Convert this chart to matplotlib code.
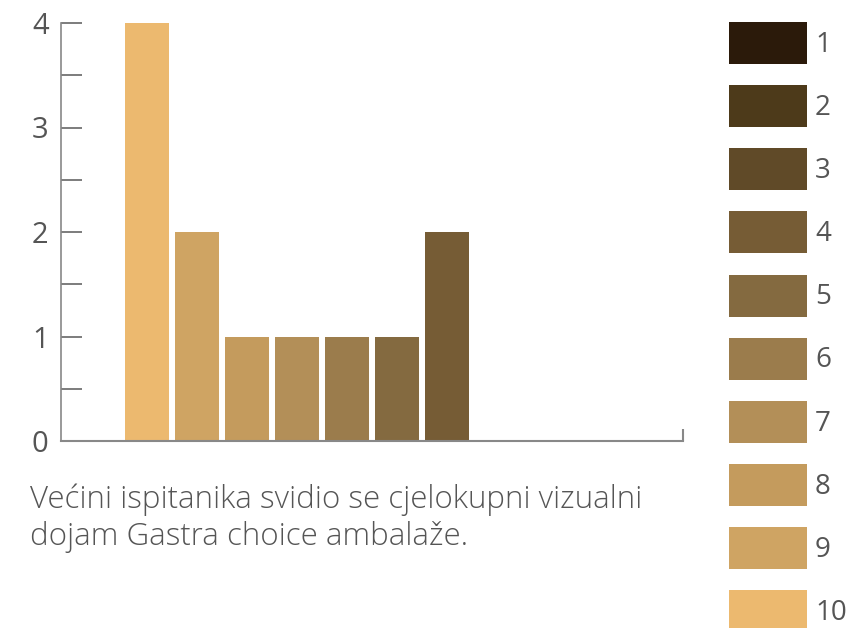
import matplotlib.pyplot as plt
from matplotlib.patches import Patch

# ocjene od 10 do 1, broj ispitanika po ocjeni
ocjene = ["10", "9", "8", "7", "6", "5", "4", "3", "2", "1"]
broj = [4, 2, 1, 1, 1, 1, 2, 0, 0, 0]

boje = {
    "1": "#2b1a0a",
    "2": "#4d3a1a",
    "3": "#604a28",
    "4": "#765c35",
    "5": "#846a40",
    "6": "#9b7c4c",
    "7": "#b38f58",
    "8": "#c49b5d",
    "9": "#cfa463",
    "10": "#ecb96f",
}
legenda = ["1", "2", "3", "4", "5", "6", "7", "8", "9", "10"]

opis = "Većini ispitanika svidio se cjelokupni vizualni\ndojam Gastra choice ambalaže."

plt.rcParams["font.family"] = ["Open Sans", "DejaVu Sans"]
siva = "#555555"

fig = plt.figure(figsize=(8.65, 6.28), dpi=100)
ax = fig.add_axes([61 / 865, 187 / 628, 622 / 865, 418 / 628])

x = range(len(ocjene))
ax.bar(x, broj, width=0.88, color=[boje[o] for o in ocjene])

ax.set_xlim(-1.72, 10.72)
ax.set_ylim(0, 4)
ax.set_yticks([0, 1, 2, 3, 4])
ax.set_yticks([0.5, 1.5, 2.5, 3.5], minor=True)
ax.tick_params(axis="y", which="both", direction="in", length=15, width=1.2,
               color="#666666", labelsize=21, labelcolor=siva, pad=9)
ax.set_xticks([10.72])
ax.set_xticklabels([])
ax.tick_params(axis="x", direction="in", length=9, width=1.5, color="#888888")

for s in ["top", "right"]:
    ax.spines[s].set_visible(False)
ax.spines["left"].set_color("#888888")
ax.spines["bottom"].set_color("#888888")
ax.spines["left"].set_linewidth(1.2)
ax.spines["bottom"].set_linewidth(1.5)

handles = [Patch(facecolor=boje[o], edgecolor="none") for o in legenda]
fig.legend(handles, legenda, loc="upper left", bbox_to_anchor=(729 / 865, 1 - 22 / 628),
           frameon=False, fontsize=20, handlelength=2.8, handleheight=1.95,
           labelspacing=0.76, handletextpad=0.3, borderpad=0, borderaxespad=0,
           labelcolor=siva)

fig.text(30 / 865, 1 - 484 / 628, opis, fontsize=22.5, color=siva, va="top",
         linespacing=1.18, fontweight="light")

fig.savefig("out.png", dpi=100)
